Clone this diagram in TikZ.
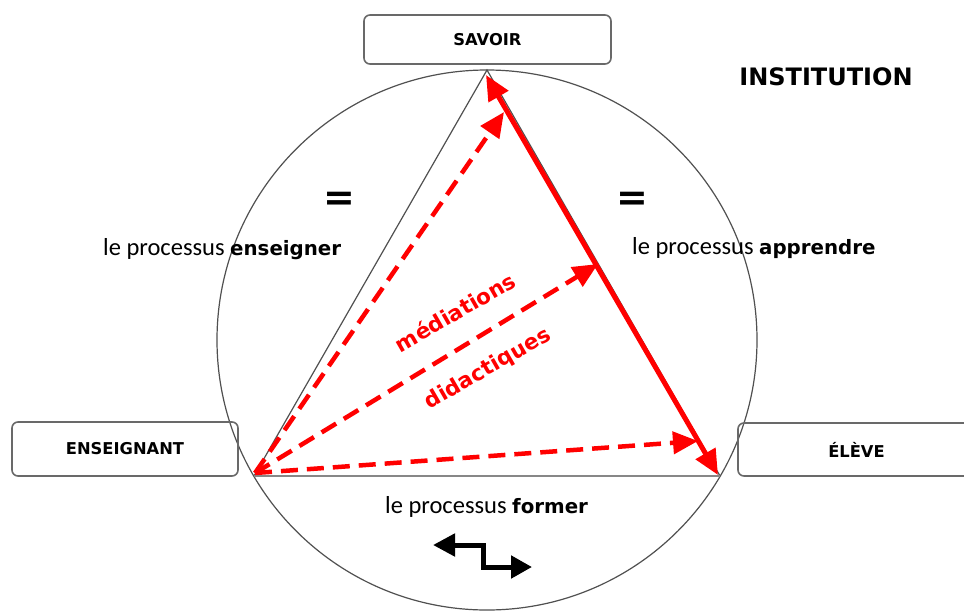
\documentclass[tikz,border=0pt]{standalone}
\usepackage{fontspec}
\setmainfont{Carlito}
\newfontfamily\vbf{DejaVu Sans}
\usetikzlibrary{arrows.meta}
\definecolor{rd}{RGB}{255,0,0}
\definecolor{ln}{RGB}{80,80,80}
\definecolor{bx}{RGB}{105,105,105}
\begin{document}
\begin{tikzpicture}[x=1pt,y=-1pt,
  box/.style={draw=bx,line width=1.6pt,rounded corners=6pt,inner sep=0pt,
    font=\vbf\bfseries\fontsize{16.3}{18}\selectfont},
  reg/.style={font=\fontsize{24.5}{28}\selectfont,inner sep=0pt,anchor=base west},
  redtxt/.style={text=rd,font=\vbf\bfseries\fontsize{21.5}{24}\selectfont,rotate=30,inner sep=0pt},
  eqsign/.style={font=\vbf\bfseries\fontsize{38}{40}\selectfont,inner sep=0pt},
  dasharrow/.style={draw=rd,line width=4.5pt,dash pattern=on 17pt off 9pt,
    -{Triangle[length=25pt,width=22pt]}},
  solidarrow/.style={draw=rd,line width=5pt,
    {Triangle[length=25pt,width=22pt]}-{Triangle[length=25pt,width=22pt]}},
  zig/.style={draw=black,line width=5pt,line join=miter,
    {Triangle[length=22pt,width=22pt]}-{Triangle[length=21pt,width=22pt]}}
]
\useasboundingbox (0,0) rectangle (964,614);
\fill[white] (0,0) rectangle (964,614);

% circle
\draw[ln,line width=1.2pt] (487,340) circle[radius=270pt];

% triangle vertices
\coordinate (S) at (487,70);
\coordinate (E) at (254,476);
\coordinate (L) at (720,476);

\draw[ln,line width=1.2pt] (E) -- (S) -- (L);
\draw[bx!80,line width=2pt] (E) -- (L);

% boxes
\node[box,minimum width=247pt,minimum height=49pt] (savoir) at (487.5,39.5) {SAVOIR};
\node[box,minimum width=226pt,minimum height=54pt] (ens) at (125,449) {ENSEIGNANT};
\node[box,minimum width=237pt,minimum height=53pt] (eleve) at (856.5,449.5) {ÉLÈVE};

\node[font=\vbf\bfseries\fontsize{24}{26}\selectfont,inner sep=0pt] (inst) at (826,77) {INSTITUTION};

% equal signs
\node[eqsign] (eq1) at (339,201) {=};
\node[eqsign] (eq2) at (632,201) {=};

% process labels
\node[reg] (p1) at (103,255) {le processus {\vbf\bfseries\fontsize{19.8}{22}\selectfont enseigner}};
\node[reg] (p2) at (632,254) {le processus {\vbf\bfseries\fontsize{19.8}{22}\selectfont apprendre}};
\node[reg] (p3) at (385,513) {le processus {\vbf\bfseries\fontsize{19.8}{22}\selectfont former}};

% red labels
\node[redtxt] (med) at (455,312) {médiations};
\node[redtxt] (did) at (488,369) {didactiques};

% arrows
\coordinate (rt) at (486,75);
\coordinate (rb) at (718,475);
\draw[solidarrow] (rt) -- (rb);

\coordinate (d0) at (255,473);
\coordinate (d1) at (504,112);
\coordinate (d2) at (598,264);
\coordinate (d3) at (698,441);
\draw[dasharrow] (d0) -- (d1);
\draw[dasharrow] (d0) -- (d2);
\draw[dasharrow] (d0) -- (d3);

% zigzag double arrow
\coordinate (zl) at (433,545);
\coordinate (zr) at (532,567);
\draw[zig] (zl) -- (483,545) -- (483,567) -- (zr);
\end{tikzpicture}
\end{document}
